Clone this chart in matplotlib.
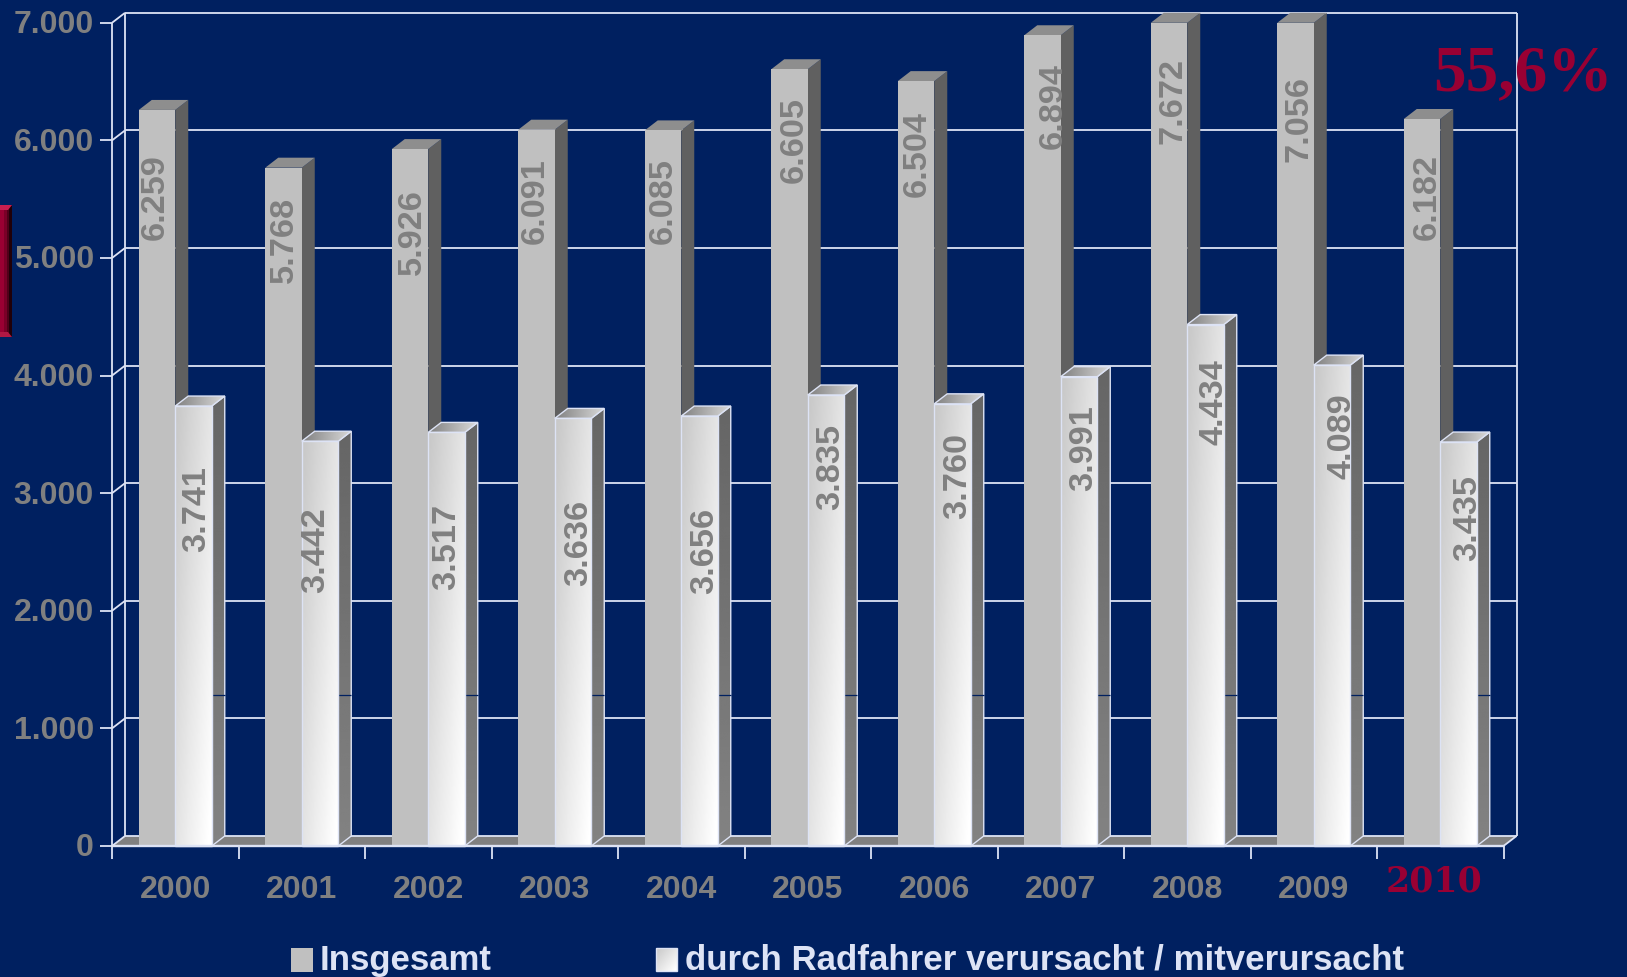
import numpy as np
import matplotlib
matplotlib.use("Agg")
import matplotlib.pyplot as plt
from matplotlib.patches import Polygon, Rectangle

years = ["2000", "2001", "2002", "2003", "2004", "2005", "2006", "2007", "2008", "2009", "2010"]
insgesamt = [6259, 5768, 5926, 6091, 6085, 6605, 6504, 6894, 7672, 7056, 6182]
radfahrer = [3741, 3442, 3517, 3636, 3656, 3835, 3760, 3991, 4434, 4089, 3435]
y_ticks = [0, 1000, 2000, 3000, 4000, 5000, 6000, 7000]
y_tick_labels = ["0", "1.000", "2.000", "3.000", "4.000", "5.000", "6.000", "7.000"]

# where the value labels sit, in pixels of the picture
label_x_1 = [155, 284, 412, 535, 663, 794, 917, 1053, 1173, 1299, 1427]
label_y_1 = [197, 240, 232, 201, 201, 140, 154, 106, 101, 119, 197]
label_x_2 = [197, 316, 447, 579, 705, 831, 958, 1084, 1214, 1342, 1468]
label_y_2 = [509, 550, 547, 543, 551, 467, 476, 448, 402, 436, 518]

BG = "#002060"
GREY = "#808080"
LINE = "#DDE3F5"
RED = "#990033"
W, H = 1627, 977

x0_px, step_px = 112, 126.5
y0_px, k_px = 846, 0.1176
axis_max = 7000


def X(px):
    return (px - x0_px) / step_px


def Y(py):
    return (y0_px - py) / k_px


dx = 13 / step_px
dy = 10 / k_px
bw = 36.5 / step_px

plt.rcParams["font.family"] = ["Liberation Sans", "DejaVu Sans"]
fig = plt.figure(figsize=(W / 100, H / 100), dpi=100, facecolor=BG)
ax = fig.add_axes([0, 0, 1, 1])
ax.set_axis_off()


def grad_poly(pts, arr, z, edge=None):
    # fill a polygon with a small gray image, clipped to its outline
    pts = np.array(pts)
    ext = [pts[:, 0].min(), pts[:, 0].max(), pts[:, 1].min(), pts[:, 1].max()]
    im = ax.imshow(arr, extent=ext, aspect="auto", cmap="gray", vmin=0, vmax=1,
                   origin="upper", interpolation="bilinear", zorder=z)
    p = Polygon(pts, closed=True, fc="none", ec=edge if edge else "none", lw=1.0, zorder=z + 0.01)
    ax.add_patch(p)
    im.set_clip_path(p)


def line(xs, ys, z=1, color=LINE, lw=1.3):
    ax.plot(xs, ys, color=color, lw=lw, zorder=z, solid_capstyle="butt", clip_on=False)


n = len(years)

# floor
ax.add_patch(Polygon([(0, 0), (n, 0), (n + dx, dy), (dx, dy)], fc=GREY, ec="none", zorder=1))
line([dx, n + dx], [dy, dy], 1.2)

# walls and grid
line([0, 0], [0, axis_max], 1.2)
line([dx, dx], [dy, axis_max + dy], 1.2)
line([n + dx, n + dx], [dy, axis_max + dy], 1.2)
for v in y_ticks:
    if v > 0:
        line([dx, n + dx], [v + dy, v + dy], 1.1)
    line([0, dx], [v, v + dy], 1.2)
    line([-12 / step_px, 0], [v, v], 1.2)
    ax.text(X(94), v - 8 / k_px * 0.3, y_tick_labels[y_ticks.index(v)], ha="right", va="center",
            color=GREY, fontsize=23, fontweight="bold", zorder=8)
line([n, n + dx], [0, dy], 1.2)
line([0, n], [0, 0], 6, lw=1.7)
for i in range(n + 1):
    line([i, i], [0, Y(859)], 1.2)

# bars, from left to right so that the later ones cover the earlier ones
u, v = np.meshgrid(np.linspace(0, 1, 40), np.linspace(0, 1, 60))
white_face = np.clip(0.78 + 0.22 * np.clip(0.55 * u + 0.5 * v, 0, 1), 0, 1)
top_face = np.clip(0.5 + 0.35 * u[:8] + 0.05 * v[:8], 0, 1)
side_face = 0.40 + 0.11 * v

for i in range(n):
    h1 = min(insgesamt[i], axis_max)
    h2 = min(radfahrer[i], axis_max)
    left = i + 0.5 - bw
    mid = i + 0.5
    right = i + 0.5 + bw
    z = 2 + i * 0.1

    ax.add_patch(Polygon([(mid, 0), (mid + dx, dy), (mid + dx, h1 + dy), (mid, h1)],
                         fc="#606060", ec="none", zorder=z))
    ax.add_patch(Polygon([(left, h1), (mid, h1), (mid + dx, h1 + dy), (left + dx, h1 + dy)],
                         fc="#8E8E8E", ec="none", zorder=z))
    ax.bar(left, h1, width=bw, align="edge", color="#C0C0C0", zorder=z + 0.01)

    z2 = z + 0.02
    grad_poly([(right, 0), (right + dx, dy), (right + dx, h2 + dy), (right, h2)], side_face, z2, LINE)
    grad_poly([(mid, h2), (right, h2), (right + dx, h2 + dy), (mid + dx, h2 + dy)], top_face, z2 + 0.02, LINE)
    grad_poly([(mid, 0), (right, 0), (right, h2), (mid, h2)], white_face, z2 + 0.04, LINE)
    line([right, right + dx], [1280, 1280], z2 + 0.03, color=BG, lw=0.9)

for i in range(n):
    ax.text(X(label_x_1[i]), Y(label_y_1[i]), f"{insgesamt[i]:,}".replace(",", "."), rotation=90,
            ha="center", va="center", color=GREY, fontsize=24.7, fontweight="bold", zorder=9)
    ax.text(X(label_x_2[i]), Y(label_y_2[i]), f"{radfahrer[i]:,}".replace(",", "."), rotation=90,
            ha="center", va="center", color=GREY, fontsize=24.7, fontweight="bold", zorder=9)
    if years[i] != "2010":
        ax.text(i + 0.5, Y(890), years[i], ha="center", va="center", color=GREY,
                fontsize=23, fontweight="bold", zorder=8)

ax.text(X(1434), Y(882), "2010", ha="center", va="center", color=RED, fontsize=25,
        fontweight="bold", family="DejaVu Serif", zorder=8)
ax.text(X(1523), Y(90), "55,6%", ha="center", va="baseline", color=RED, fontsize=47,
        fontweight="bold", family="Liberation Serif", zorder=10)

# legend
ax.add_patch(Rectangle((X(291), Y(972)), 22 / step_px, 24 / k_px, fc="#C0C0C0", ec="none", zorder=8))
ax.text(X(320), Y(970), "Insgesamt", ha="left", va="baseline", color=LINE, fontsize=25,
        fontweight="bold", zorder=8)
grad_poly([(X(656), Y(971)), (X(677), Y(971)), (X(677), Y(948)), (X(656), Y(948))], white_face, 8, LINE)
ax.text(X(685), Y(970), "durch Radfahrer verursacht / mitverursacht", ha="left", va="baseline",
        color=LINE, fontsize=25.1, fontweight="bold", zorder=8)

# red button cut off at the left edge, getting darker to the right
btn_edges = [0, 4, 7, 9, 12]
btn_cols = ["#990033", "#7A0028", "#50001A", "#200008"]
for j in range(len(btn_cols)):
    ax.add_patch(Rectangle((X(btn_edges[j]), Y(337)), (btn_edges[j + 1] - btn_edges[j]) / step_px, 132 / k_px,
                           fc=btn_cols[j], ec="none", zorder=8))
ax.add_patch(Polygon([(X(0), Y(205)), (X(12), Y(205)), (X(8), Y(210)), (X(0), Y(210))], fc="#C81E50", ec="none", zorder=8.1))
ax.add_patch(Polygon([(X(0), Y(337)), (X(12), Y(337)), (X(8), Y(332)), (X(0), Y(332))], fc="#B01844", ec="none", zorder=8.1))

ax.set_xlim(X(0), X(W))
ax.set_ylim(Y(H), Y(0))
fig.savefig("out.png", dpi=100, facecolor=BG)
